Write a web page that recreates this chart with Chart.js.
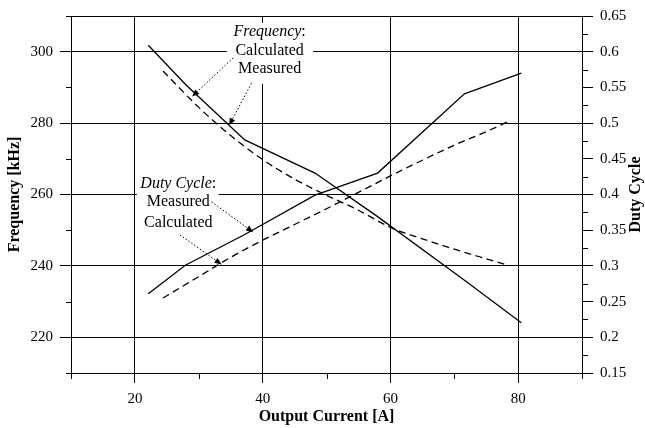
<!DOCTYPE html>
<html>
<head>
<meta charset="utf-8">
<script src="https://cdn.jsdelivr.net/npm/chart.js@4.4.0/dist/chart.umd.min.js"></script>
<style>
  html, body { margin: 0; padding: 0; background: #fff; }
  canvas { display: block; }
</style>
</head>
<body>
<canvas id="chart" width="645" height="428"></canvas>
<script>
// measured points (solid lines)
const currentMeasured = [22.1, 27.9, 37.2, 48.2, 58.0, 71.6, 80.5];
const freqMeasured = [301.8, 290.9, 275.3, 266.0, 253.8, 236.0, 224.1];
const dutyMeasured = [0.261, 0.301, 0.344, 0.399, 0.430, 0.541, 0.570];

// calculated curves (dashed lines)
const currentCalculated = [24.4, 30, 35, 40, 45, 50, 55, 60, 65, 70, 75, 78.4];
const freqCalculated = [294.6, 284.4, 276.5, 269.8, 264.3, 259.8, 255.6, 250.8, 247.6, 244.7, 242.0, 240.2];
const dutyCalculated = [0.255, 0.285, 0.312, 0.336, 0.358, 0.380, 0.403, 0.426, 0.448, 0.469, 0.488, 0.502];

// axis ticks
const xTicks = [20, 40, 60, 80];
const xMinorTicks = [10, 30, 50, 70, 90];
const freqTicks = [220, 240, 260, 280, 300];
const freqMinorTicks = [210, 230, 250, 270, 290, 310];
const dutyTicks = [0.15, 0.2, 0.25, 0.3, 0.35, 0.4, 0.45, 0.5, 0.55, 0.6, 0.65];
const dutyMinorTicks = [0.175, 0.225, 0.275, 0.325, 0.375, 0.425, 0.475, 0.525, 0.575, 0.625];

const SERIF = '"Liberation Serif", "Times New Roman", serif';
const toPoints = (xs, ys) => xs.map((x, i) => ({x: x, y: ys[i]}));

const line = (ctx, x1, y1, x2, y2) => {
  ctx.beginPath();
  ctx.moveTo(x1, y1);
  ctx.lineTo(x2, y2);
  ctx.stroke();
};
const snap = (v) => Math.round(v) + 0.5;

// dotted arrow with small filled head at the tip
const arrow = (ctx, x1, y1, x2, y2) => {
  const ang = Math.atan2(y2 - y1, x2 - x1);
  const len = 7, half = 3;
  ctx.save();
  ctx.setLineDash([1.5, 2]);
  ctx.lineWidth = 1;
  line(ctx, x1, y1, x2 - Math.cos(ang) * 4, y2 - Math.sin(ang) * 4);
  ctx.setLineDash([]);
  ctx.beginPath();
  ctx.moveTo(x2, y2);
  ctx.lineTo(x2 - len * Math.cos(ang) + half * Math.sin(ang), y2 - len * Math.sin(ang) - half * Math.cos(ang));
  ctx.lineTo(x2 - len * Math.cos(ang) - half * Math.sin(ang), y2 - len * Math.sin(ang) + half * Math.cos(ang));
  ctx.closePath();
  ctx.fill();
  ctx.restore();
};

// "Frequency:" style heading, italic word + upright colon
const heading = (ctx, word, cx, y) => {
  ctx.font = 'italic 16px ' + SERIF;
  const w1 = ctx.measureText(word).width;
  ctx.font = '16px ' + SERIF;
  const w2 = ctx.measureText(':').width;
  const sx = cx - (w1 + w2) / 2;
  ctx.textAlign = 'left';
  ctx.font = 'italic 16px ' + SERIF;
  ctx.fillText(word, sx, y);
  ctx.font = '16px ' + SERIF;
  ctx.fillText(':', sx + w1, y);
};

const frameAndNotes = {
  id: 'frameAndNotes',
  beforeDatasetsDraw(chart) {
    const {ctx, chartArea, scales} = chart;
    const x = scales.x, yF = scales.yF, yD = scales.yD;
    ctx.save();
    ctx.strokeStyle = '#000';
    ctx.lineWidth = 1;
    const top = snap(yF.getPixelForValue(310));
    line(ctx, chartArea.left - 5, top, chartArea.right, top);
    xMinorTicks.forEach(v => {
      const px = snap(x.getPixelForValue(v));
      line(ctx, px, chartArea.bottom, px, chartArea.bottom + 6);
    });
    freqMinorTicks.forEach(v => {
      const py = snap(yF.getPixelForValue(v));
      line(ctx, chartArea.left - 5, py, chartArea.left, py);
    });
    dutyMinorTicks.forEach(v => {
      const py = snap(yD.getPixelForValue(v));
      line(ctx, chartArea.right, py, chartArea.right + 6, py);
    });
    // white backing behind the two labels
    ctx.fillStyle = '#fff';
    const box = (a, b, c, d) => {
      const l = x.getPixelForValue(a), r = x.getPixelForValue(b);
      const t = yF.getPixelForValue(c), btm = yF.getPixelForValue(d);
      ctx.fillRect(l, t, r - l, btm - t);
    };
    box(34.4, 47.9, 308.1, 291.0);
    box(20.3, 33.1, 265.0, 252.0);
    ctx.restore();
  },
  afterDatasetsDraw(chart) {
    const {ctx, scales, chartArea} = chart;
    const x = scales.x, yF = scales.yF;
    const px = v => x.getPixelForValue(v);
    const py = v => yF.getPixelForValue(v);
    ctx.save();
    ctx.fillStyle = '#000';
    ctx.strokeStyle = '#000';
    ctx.textBaseline = 'alphabetic';

    // Frequency labels
    const fx = px(41.1);
    heading(ctx, 'Frequency', fx, py(304.5));
    ctx.font = '16px ' + SERIF;
    ctx.textAlign = 'center';
    ctx.fillText('Calculated', fx, py(299.1));
    ctx.fillText('Measured', fx, py(293.9));

    // Duty Cycle labels
    const dx = px(26.8);
    heading(ctx, 'Duty Cycle', dx, py(261.9));
    ctx.font = '16px ' + SERIF;
    ctx.textAlign = 'center';
    ctx.fillText('Measured', dx, py(256.85));
    ctx.fillText('Calculated', dx, py(250.84));

    arrow(ctx, px(35.4), py(298.3), px(28.97), py(287.44));
    arrow(ctx, px(38.26), py(291.15), px(34.76), py(279.42));
    arrow(ctx, px(32.0), py(257.95), px(38.51), py(249.46));
    arrow(ctx, px(27.04), py(248.71), px(33.57), py(240.41));

    // right axis title reads bottom-to-top like the left one
    ctx.translate(636, (chartArea.top + chartArea.bottom) / 2);
    ctx.rotate(-Math.PI / 2);
    ctx.font = 'bold 16px ' + SERIF;
    ctx.textAlign = 'center';
    ctx.textBaseline = 'middle';
    ctx.fillText('Duty Cycle', 0, 0);
    ctx.restore();
  }
};

const tickFont = {family: SERIF, size: 15};
const titleFont = {family: SERIF, size: 16, weight: 'bold'};

new Chart(document.getElementById('chart'), {
  type: 'line',
  data: {
    datasets: [
      {
        label: 'Frequency measured',
        data: toPoints(currentMeasured, freqMeasured),
        yAxisID: 'yF',
        borderColor: '#000', borderWidth: 1.3, pointRadius: 0, tension: 0
      },
      {
        label: 'Frequency calculated',
        data: toPoints(currentCalculated, freqCalculated),
        yAxisID: 'yF',
        borderColor: '#000', borderWidth: 1.3, borderDash: [7, 4.5], pointRadius: 0,
        cubicInterpolationMode: 'monotone'
      },
      {
        label: 'Duty measured',
        data: toPoints(currentMeasured, dutyMeasured),
        yAxisID: 'yD',
        borderColor: '#000', borderWidth: 1.3, pointRadius: 0, tension: 0
      },
      {
        label: 'Duty calculated',
        data: toPoints(currentCalculated, dutyCalculated),
        yAxisID: 'yD',
        borderColor: '#000', borderWidth: 1.3, borderDash: [7, 4.5], pointRadius: 0,
        cubicInterpolationMode: 'monotone'
      }
    ]
  },
  options: {
    responsive: false,
    animation: false,
    devicePixelRatio: 1,
    layout: {padding: {top: 11, left: 0, right: 0, bottom: 0}},
    plugins: {legend: {display: false}, tooltip: {enabled: false}},
    scales: {
      x: {
        type: 'linear', position: 'bottom', min: 10, max: 90,
        afterBuildTicks: s => { s.ticks = xTicks.map(v => ({value: v})); },
        afterFit: s => { s.height = 55; },
        grid: {color: '#000', lineWidth: 1, tickLength: 10},
        border: {color: '#000', width: 1},
        ticks: {font: tickFont, color: '#000', padding: 7, maxRotation: 0, autoSkip: false, callback: v => String(v)},
        title: {display: true, text: 'Output Current [A]', font: titleFont, color: '#000', padding: {top: 0, bottom: 2}}
      },
      yF: {
        type: 'linear', position: 'left', min: 210, max: 310,
        afterBuildTicks: s => { s.ticks = freqTicks.map(v => ({value: v})); },
        afterFit: s => { s.width = 71; },
        grid: {color: '#000', lineWidth: 1, tickLength: 11},
        border: {color: '#000', width: 1},
        ticks: {font: tickFont, color: '#000', padding: 7, callback: v => String(v)},
        title: {display: true, text: 'Frequency [kHz]', font: titleFont, color: '#000', padding: {top: 5, bottom: 0}}
      },
      yD: {
        type: 'linear', position: 'right', min: 0.15, max: 0.65,
        afterBuildTicks: s => { s.ticks = dutyTicks.map(v => ({value: v})); },
        afterFit: s => { s.width = 63; },
        grid: {color: '#000', lineWidth: 1, tickLength: 11, drawOnChartArea: false},
        border: {color: '#000', width: 1},
        ticks: {font: tickFont, color: '#000', padding: 7, callback: v => String(v)},
        title: {display: false}
      }
    }
  },
  plugins: [frameAndNotes]
});
</script>
</body>
</html>
